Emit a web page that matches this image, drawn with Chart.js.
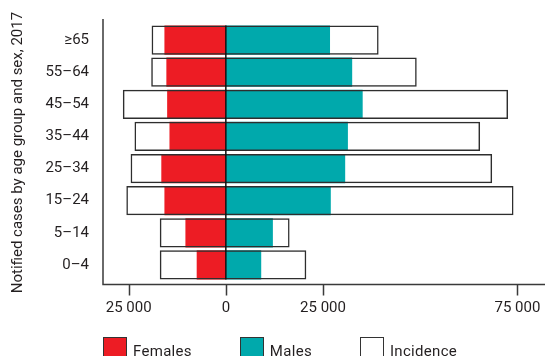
<!DOCTYPE html>
<html>
<head>
<meta charset="utf-8">
<script src="https://cdn.jsdelivr.net/npm/chart.js@4.4.1/dist/chart.umd.min.js"></script>
<style>
  html, body { margin: 0; padding: 0; background: #fff; }
  .wrap {
    position: relative;
    width: 545px;
    height: 356px;
    overflow: hidden;
    font-family: Roboto, sans-serif;
    color: #231f20;
  }
  .wrap canvas { position: absolute; left: 0; top: 0; }
  .legend {
    position: absolute;
    left: 103px;
    top: 337px;
    display: flex;
    gap: 48px;
    font-size: 15px;
  }
  .legend-item { display: flex; align-items: flex-start; gap: 6px; }
  .swatch { width: 22px; height: 18px; border: 1.5px solid #333; }
  .legend-item span { line-height: 18px; margin-top: 5px; letter-spacing: 0.3px; }
</style>
</head>
<body>
<div class="wrap">
  <canvas id="casesChart" width="545" height="356"></canvas>
  <div class="legend" id="legend"></div>
</div>
<script>
const ageGroups = ["≥65", "55–64", "45–54", "35–44", "25–34", "15–24", "5–14", "0–4"];
const femaleCases = [-15800, -15300, -15100, -14500, -16600, -15800, -10400, -7500];
const maleCases = [26800, 32500, 35200, 31400, 30700, 27000, 12100, 9100];
// incidence box ends, left (female side) and right (male side), in axis units
const incidenceFemaleSide = [-19100, -19200, -26500, -23500, -24500, -25600, -17000, -17000];
const incidenceMaleSide = [39300, 49100, 72600, 65400, 68500, 74000, 16400, 20700];
const xTickValues = [-25000, 0, 25000, 75000];

const palette = {
  red: "#ed1c24",
  teal: "#00a9ac",
  ink: "#231f20",
  frame: "#3a3a3a",
};

const font = { family: "Roboto, sans-serif", size: 15 };

function formatTick(value) {
  return String(Math.abs(value)).replace(/\B(?=(\d{3})+(?!\d))/g, " ");
}

// left/bottom frame, tick marks and the zero line through the bars
const axisFrame = {
  id: "axisFrame",
  afterDatasetsDraw(chart) {
    const { ctx, chartArea, scales } = chart;
    const xScale = scales.x;
    const top = chartArea.top - 5;
    const bottom = chartArea.bottom + 3.5;

    ctx.save();
    ctx.strokeStyle = palette.frame;
    ctx.lineWidth = 1.5;
    ctx.beginPath();
    ctx.moveTo(chartArea.left, top);
    ctx.lineTo(chartArea.left, bottom);
    ctx.lineTo(chart.width, bottom);
    xScale.ticks.forEach((tick) => {
      const px = Math.round(xScale.getPixelForValue(tick.value)) + 0.5;
      ctx.moveTo(px, bottom);
      ctx.lineTo(px, bottom + 11);
    });
    ctx.stroke();

    const meta = chart.getDatasetMeta(0);
    const first = meta.data[0].getProps(["y", "height"], true);
    const last = meta.data[meta.data.length - 1].getProps(["y", "height"], true);
    const zero = xScale.getPixelForValue(0);
    ctx.strokeStyle = "#111";
    ctx.lineWidth = 1.5;
    ctx.beginPath();
    ctx.moveTo(zero, first.y - first.height / 2);
    ctx.lineTo(zero, last.y + last.height / 2);
    ctx.stroke();
    ctx.restore();
  },
};

const datasets = [
  {
    label: "Incidence",
    data: ageGroups.map((_, i) => [incidenceFemaleSide[i], incidenceMaleSide[i]]),
    backgroundColor: "rgba(255,255,255,0)",
    borderColor: "#2e2e2e",
    borderWidth: 1.5,
    borderSkipped: false,
    order: 0,
  },
  {
    label: "Females",
    data: femaleCases,
    backgroundColor: palette.red,
    borderWidth: 0,
    order: 1,
  },
  {
    label: "Males",
    data: maleCases,
    backgroundColor: palette.teal,
    borderWidth: 0,
    order: 1,
  },
];

new Chart(document.getElementById("casesChart"), {
  type: "bar",
  data: { labels: ageGroups, datasets },
  options: {
    indexAxis: "y",
    responsive: false,
    animation: false,
    layout: { padding: { left: 9, top: 24, right: 0, bottom: 0 } },
    datasets: {
      bar: { grouped: false, barPercentage: 0.91, categoryPercentage: 1 },
    },
    plugins: {
      legend: { display: false },
      tooltip: { enabled: false },
    },
    scales: {
      x: {
        type: "linear",
        min: -31600,
        max: 82100,
        afterBuildTicks(scale) {
          scale.ticks = xTickValues.map((value) => ({ value }));
        },
        afterFit(scale) {
          scale.height = 75;
          scale.paddingLeft = 0;
          scale.paddingRight = 0;
        },
        grid: { display: false, drawTicks: false },
        border: { display: false },
        ticks: {
          font,
          color: palette.ink,
          padding: 18,
          maxRotation: 0,
          callback: (value) => formatTick(value),
        },
      },
      y: {
        type: "category",
        afterFit(scale) {
          scale.width = 94;
        },
        grid: { display: false, drawTicks: false },
        border: { display: false },
        ticks: { font, color: palette.ink, padding: 14 },
        title: {
          display: true,
          text: "Notified cases by age group and sex, 2017",
          font,
          color: palette.ink,
          padding: { top: 0, bottom: 0 },
        },
      },
    },
  },
  plugins: [axisFrame],
});

const legendItems = [
  { label: "Females", color: palette.red },
  { label: "Males", color: palette.teal },
  { label: "Incidence", color: "#fff" },
];

document.getElementById("legend").innerHTML = legendItems
  .map(
    (item) => `
      <div class="legend-item">
        <div class="swatch" style="background:${item.color}"></div>
        <span>${item.label}</span>
      </div>
    `,
  )
  .join("");
</script>
</body>
</html>
